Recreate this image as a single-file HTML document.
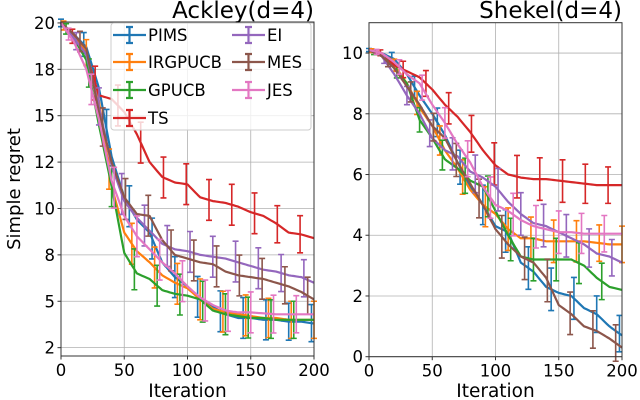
<!DOCTYPE html>
<html><head><meta charset="utf-8"><style>
body{margin:0;background:#fff;}
svg{display:block;font-family:"DejaVu Sans","Liberation Sans",sans-serif;}
</style></head><body>
<svg id="chart" width="640" height="400" viewBox="0 0 640 400"></svg>
<script>
const iters = [0,10,20,30,40,50,60,70,80,90,100,110,120,130,140,150,160,170,180,190,200];
const seriesNames = ["PIMS","IRGPUCB","GPUCB","TS","EI","MES","JES"];
const seriesColors = ["#1f77b4","#ff7f0e","#2ca02c","#d62728","#9467bd","#8c564b","#e377c2"];
const errOffsets = [0,2,4,9,12,15,6];
// Ackley means
const ackPIMS = [20,19.4,18.7,16.5,12.8,10.6,9.4,8.7,7.1,6.3,5.8,5.1,4.7,4.3,4.1,4.1,4.0,4.0,3.9,3.9,3.8];
const ackIRG = [20,19.3,18.4,15.8,11.2,8.7,7.7,7.1,6.4,6.0,5.7,5.1,4.6,4.4,4.3,4.2,4.1,4.1,4.0,4.0,4.0];
const ackGP = [20,19.2,18.0,14.5,11.2,7.6,6.5,6.2,5.6,5.4,5.3,5.1,4.5,4.3,4.2,4.1,4.1,4.0,4.0,4.0,4.0];
const ackTS = [20,19.2,18.3,16.1,15.9,15.2,14.0,12.5,11.7,11.4,11.3,10.6,10.4,10.3,10.1,9.8,9.6,9.2,8.7,8.6,8.4];
const ackEI = [20,19.2,18.3,15.5,12.3,10.4,9.5,8.8,8.1,7.8,7.7,7.5,7.4,7.3,7.1,6.9,6.7,6.6,6.4,6.3,6.0];
const ackMES = [20,19.4,18.6,15.2,12.5,10.6,9.7,9.6,8.3,7.5,7.3,7.1,7.0,6.6,6.4,6.3,6.2,6.0,5.8,5.5,5.1];
const ackJES = [20,19.0,17.5,14.8,11.5,9.6,8.5,7.8,7.1,6.5,5.8,5.2,4.8,4.5,4.4,4.4,4.35,4.3,4.3,4.3,4.3];
const ackErr = [0.2,0.4,0.7,1.0,1.1,1.1,1.1,1.1,1.1,1.1,1.1,1.1,1.1,1.1,1.1,1.1,1.1,1.0,1.0,1.0,1.0];
// Shekel means
const shPIMS = [10.1,10.0,9.8,9.3,8.6,8.0,7.3,6.4,5.6,5.0,4.3,4.1,3.1,2.8,2.3,2.1,2.0,1.6,1.4,1.0,0.7];
const shIRG = [10.1,10.0,9.6,9.0,8.2,7.6,6.8,6.2,5.5,5.0,4.7,4.2,3.9,3.9,3.8,3.8,3.8,3.8,3.75,3.7,3.7];
const shGP = [10.1,9.9,9.5,9.0,7.8,7.2,6.5,6.2,5.8,5.6,4.8,4.0,3.3,3.2,3.2,3.2,3.2,3.0,2.6,2.3,2.2];
const shTS = [10.1,10.0,9.6,9.4,9.2,8.8,8.3,7.9,7.4,6.8,6.3,6.0,5.9,5.85,5.85,5.8,5.75,5.7,5.65,5.65,5.65];
const shEI = [10.1,9.9,9.3,8.6,8.0,7.2,6.8,6.6,6.1,5.9,5.6,5.1,4.7,4.4,4.3,4.1,3.9,3.7,3.4,3.3,3.1];
const shMES = [10.1,9.9,9.5,8.9,8.3,7.6,7.2,6.4,5.7,5.0,4.2,3.7,3.3,3.1,2.6,1.7,1.4,1.0,0.85,0.6,0.3];
const shJES = [10.1,10.0,9.7,9.3,9.0,8.3,7.7,7.0,6.4,5.6,5.0,4.8,4.5,4.3,4.2,4.1,4.1,4.05,4.05,4.05,4.05];
const shErr = [0.05,0.1,0.2,0.3,0.4,0.45,0.5,0.55,0.6,0.65,0.7,0.7,0.7,0.7,0.7,0.7,0.7,0.65,0.6,0.6,0.6];
const ackTicks = [20,17.5,15,12.5,10,7.5,5,2.5];
const ackTickLabels = ["20","18","15","12","10","8","5","2"];
const shTicks = [10,8,6,4,2,0];
const shTickLabels = ["10","8","6","4","2","0"];
const xTicks = [0,50,100,150,200];

const NS="http://www.w3.org/2000/svg";
const svg=document.getElementById('chart');
function mk(tag,attrs,parent){const e=document.createElementNS(NS,tag);for(const k in attrs)e.setAttribute(k,attrs[k]);(parent||svg).appendChild(e);return e;}
function interp(arr,it){const i=Math.min(Math.floor(it/10),19);const t=(it-iters[i])/10;return arr[i]+(arr[i+1]-arr[i])*t;}

function panel(opt){
  const g=mk('g',{});
  
  
  const X=v=>opt.x0+(v-0)/200*(opt.x1-opt.x0);
  const Y=v=>opt.y0+(opt.ymax-v)/(opt.ymax-opt.ymin)*(opt.y1-opt.y0);
  xTicks.forEach(t=>{const l=mk('line',{x1:X(t),x2:X(t),y1:opt.y0,y2:opt.y1,stroke:'#b0b0b0','stroke-width':0.8},g);
    });
  opt.ticks.forEach(t=>{const l=mk('line',{x1:opt.x0,x2:opt.x1,y1:Y(t),y2:Y(t),stroke:'#b0b0b0','stroke-width':0.8},g);
    });
  opt.data.forEach((arr,si)=>{
    const sg=mk('g',{},g);
    
    
    let d='';
    for(let it=0;it<=200;it+=2){const v=interp(arr,it);d+=(it?'L':'M')+X(it).toFixed(1)+' '+Y(v).toFixed(1);}
    mk('path',{d:d,fill:'none',stroke:seriesColors[si],'stroke-width':2.2,'stroke-linejoin':'round'},sg);
    for(let it=errOffsets[si];it<=200;it+=18){
      const m=interp(arr,it),e=interp(opt.err,it);
      const eb=mk('path',{d:`M${X(it)} ${Y(m+e)}V${Y(m-e)}M${X(it)-3} ${Y(m+e)}h6M${X(it)-3} ${Y(m-e)}h6`,stroke:seriesColors[si],'stroke-width':1.6,fill:'none'},sg);
      
      
    }
  });
  const fr=mk('rect',{x:opt.x0,y:opt.y0,width:opt.x1-opt.x0,height:opt.y1-opt.y0,fill:'none',stroke:'#333','stroke-width':1},g);
  
  xTicks.forEach(t=>{
    mk('line',{x1:X(t),x2:X(t),y1:opt.y1,y2:opt.y1+3.5,stroke:'#333'},g);
    const tx=mk('text',{x:X(t),y:opt.y1+20,'font-size':16.5,'text-anchor':'middle',fill:'#000'},g);
    tx.textContent=t;
  });
  opt.ticks.forEach((t,i)=>{
    mk('line',{x1:opt.x0-3.5,x2:opt.x0,y1:Y(t),y2:Y(t),stroke:'#333'},g);
    const tx=mk('text',{x:opt.x0-6,y:Y(t)+6,'font-size':16.5,'text-anchor':'end',fill:'#000'},g);
    tx.textContent=opt.tickLabels[i];
  });
  const xt=mk('text',{x:(opt.x0+opt.x1)/2,y:397,'font-size':18.5,'text-anchor':'middle'},g);
  xt.textContent='Iteration';
  const tt=mk('text',{x:opt.x1,y:18,'font-size':23,'text-anchor':'end'},g);
  tt.textContent=opt.title;
}
panel({name:'ackley-panel',title:'Ackley(d=4)',x0:61,x1:314,y0:22,y1:356,ymin:2.05,ymax:20.05,ticks:ackTicks,tickLabels:ackTickLabels,
  data:[ackPIMS,ackIRG,ackGP,ackTS,ackEI,ackMES,ackJES],err:ackErr});
panel({name:'shekel-panel',title:'Shekel(d=4)',x0:369,x1:622,y0:22.7,y1:356.7,ymin:0,ymax:11,ticks:shTicks,tickLabels:shTickLabels,
  data:[shPIMS,shIRG,shGP,shTS,shEI,shMES,shJES],err:shErr});
const yl=mk('text',{x:0,y:0,'font-size':18,'text-anchor':'middle',transform:'translate(20,189) rotate(-90)'});
yl.textContent='Simple regret';


const lg=mk('g',{});


mk('rect',{x:111,y:23,width:200,height:107,rx:3,fill:'#fff','fill-opacity':0.8,stroke:'#ccc'},lg);
const legPos=[[113,35],[113,62],[113,90],[113,118],[232,35],[232,62],[232,90]];
seriesNames.forEach((n,i)=>{
  const [lx,ly]=legPos[i];
  const e=mk('g',{},lg);
  
  
  const c=seriesColors[i];
  mk('path',{d:`M${lx} ${ly}h33M${lx+16.5} ${ly-8}v16M${lx+13} ${ly-8}h7M${lx+13} ${ly+8}h7`,stroke:c,'stroke-width':2.2,fill:'none'},e);
  const t=mk('text',{x:lx+35,y:ly+6,'font-size':16.5},e);
  t.textContent=n;
});
</script>
</body></html>
